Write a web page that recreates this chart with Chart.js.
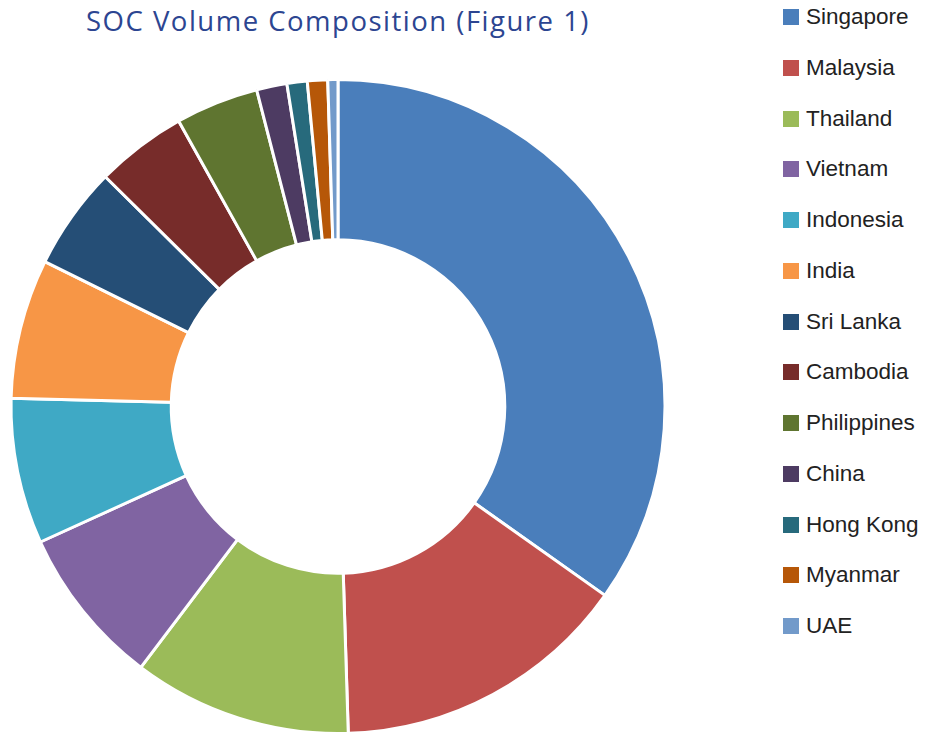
<!DOCTYPE html>
<html>
<head>
<meta charset="utf-8">
<title>SOC Volume Composition</title>
<script src="https://cdn.jsdelivr.net/npm/chart.js@4"></script>
<style>
    html, body { margin: 0; padding: 0; background: #fff; }
    #wrap { position: relative; width: 933px; height: 735px; overflow: hidden; }
    #socChart { position: absolute; left: 0; top: 0; }
    .chart-title {
        position: absolute; left: 0; top: 4px; width: 676px; margin: 0;
        text-align: center; font-family: "Open Sans", sans-serif; font-weight: 400;
        font-size: 27.5px; line-height: 34px; letter-spacing: 1.5px; color: #2c4591;
    }
    #legend { position: absolute; left: 783px; top: 7px; margin: 0; padding: 0; list-style: none; }
    #legend li {
        display: flex; align-items: center; height: 20px; margin-bottom: 30.75px;
        font-family: "Liberation Sans", Arial, sans-serif; font-size: 22.5px; color: #222;
        white-space: nowrap;
    }
    #legend .box { width: 16px; height: 16px; margin-right: 7px; flex: none; }
</style>
</head>
<body>
<div id="wrap">
    <h1 class="chart-title">SOC Volume Composition (Figure 1)</h1>
    <canvas id="socChart" width="676" height="735"></canvas>
    <ul id="legend"></ul>
</div>
<script>
// Participación por país (%)
const countries = ['Singapore', 'Malaysia', 'Thailand', 'Vietnam', 'Indonesia', 'India', 'Sri Lanka',
    'Cambodia', 'Philippines', 'China', 'Hong Kong', 'Myanmar', 'UAE'];
const shares = [34.8, 14.7, 10.8, 7.9, 7.2, 6.9, 5.1, 4.5, 4.1, 1.5, 1.0, 1.0, 0.5];
const colors = ['#4a7ebb', '#c0504d', '#9bbb59', '#8064a2', '#3fa9c5', '#f79646', '#254e76',
    '#772c2a', '#5f7530', '#4d3b62', '#276a7c', '#b65708', '#729aca'];

let socChart;

function renderChart() {
    const canvas = document.getElementById('socChart');
    socChart = new Chart(canvas.getContext('2d'), {
        type: 'doughnut',
        data: {
            labels: countries,
            datasets: [{
                data: shares,
                backgroundColor: colors,
                borderColor: '#ffffff',
                borderWidth: 3
            }]
        },
        options: {
            responsive: false,
            animation: false,
            cutout: '51%',
            layout: { padding: { top: 78, left: 8, right: 8, bottom: -3 } },
            plugins: {
                legend: { display: false },
                tooltip: { enabled: false }
            }
        }
    });
}

// Leyenda en HTML a partir de las etiquetas del propio gráfico
function renderLegend() {
    const items = socChart.options.plugins.legend.labels.generateLabels(socChart);
    document.getElementById('legend').innerHTML = items.map(item => `
        <li><span class="box" style="background:${item.fillStyle}"></span>${item.text}</li>
    `).join('');
}

window.onload = () => {
    renderChart();
    renderLegend();
};
</script>
</body>
</html>
